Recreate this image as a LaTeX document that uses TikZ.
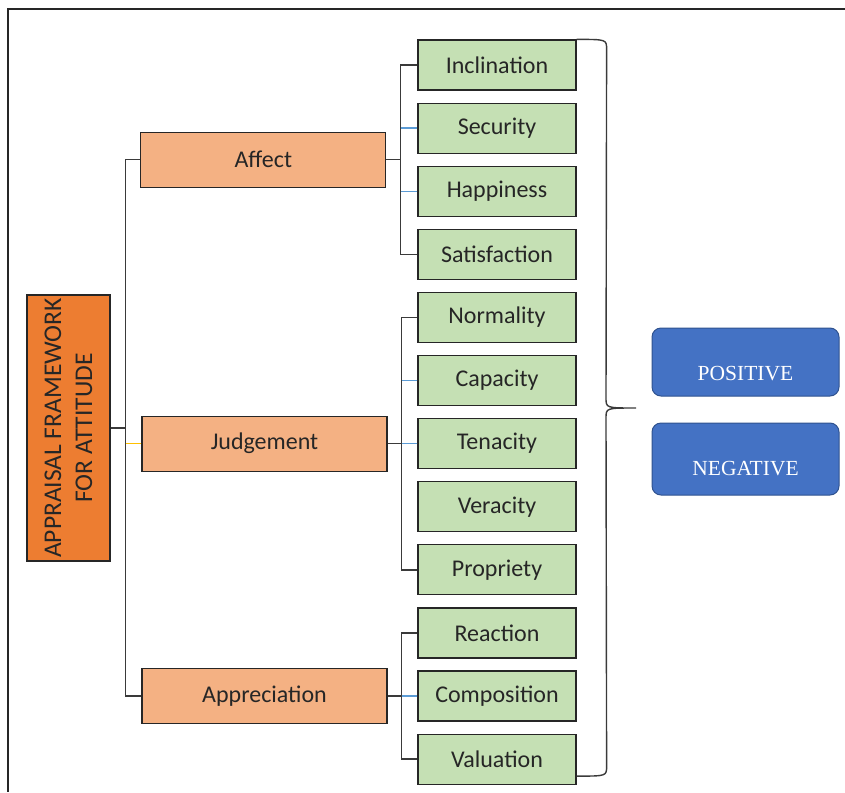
\documentclass[tikz,border=0pt]{standalone}
\usepackage{fontspec}
\setmainfont{Carlito}
\newfontfamily\poleface{Liberation Serif}
\usetikzlibrary{%
	positioning,
	calc
}
\definecolor{rootorange}{HTML}{ED7D31}
\definecolor{branchorange}{HTML}{F4B183}
\definecolor{leafgreen}{HTML}{C5E0B4}
\definecolor{poleblue}{HTML}{4472C4}
\definecolor{poleedge}{HTML}{2F528F}
\definecolor{linkgrey}{HTML}{3A3A3A}
\definecolor{linkblue}{HTML}{5B9BD5}
\definecolor{linkyellow}{HTML}{FFC000}

\begin{document}
\begin{tikzpicture}[x=1pt,y=-1pt,
		Root/.style={draw=black!85,line width=1.2pt,fill=rootorange,shape=rectangle,rotate=90,minimum width=266pt,minimum height=83pt,inner sep=0pt,align=center,font=\fontsize{25.5}{31}\selectfont,text=black!85},
		Branch/.style={draw=black!85,line width=1.2pt,fill=branchorange,shape=rectangle,minimum width=245pt,minimum height=55pt,inner sep=0pt,font=\fontsize{24}{28}\selectfont,text=black!85},
		Leaf/.style={draw=black!85,line width=1.2pt,fill=leafgreen,shape=rectangle,minimum width=158pt,minimum height=50pt,inner sep=0pt,font=\fontsize{24}{28}\selectfont,text=black!85},
		Pole/.style={draw=poleedge,line width=1pt,fill=poleblue,rounded corners=9pt,minimum width=187pt,inner sep=0pt,font=\poleface\fontsize{21.5}{24}\selectfont,text=white,text depth=0pt},
		Link/.style={draw=linkgrey,line width=1.4pt},
		LinkBlue/.style={draw=linkblue,line width=1.3pt},
		LinkYellow/.style={draw=linkyellow,line width=1.5pt}
	]
	\useasboundingbox (0,0) rectangle (845,792);
	\draw[line width=1.6pt,black!85] (845,9) -- (8,9) -- (8,792);

	% leaves
	\node (Inclination) [Leaf] at (497,65) {Inclination};
	\node (Security) [Leaf, below=11.9pt of Inclination] {Security};
	\node (Happiness) [Leaf, below=11.9pt of Security] {Happiness};
	\node (Satisfaction) [Leaf, below=11.9pt of Happiness] {Satisfaction};
	\node (Normality) [Leaf, below=11.9pt of Satisfaction] {Normality};
	\node (Capacity) [Leaf, below=11.9pt of Normality] {Capacity};
	\node (Tenacity) [Leaf, below=11.9pt of Capacity] {Tenacity};
	\node (Veracity) [Leaf, below=11.9pt of Tenacity] {Veracity};
	\node (Propriety) [Leaf, below=11.9pt of Veracity] {Propriety};
	\node (Reaction) [Leaf, below=11.9pt of Propriety] {Reaction};
	\node (Composition) [Leaf, below=11.9pt of Reaction] {Composition};
	\node (Valuation) [Leaf, below=11.9pt of Composition] {Valuation};

	% branches
	\node (Affect) [Branch, anchor=east] at ($(Security.west)!0.5!(Happiness.west)+(-31,0)$) {Affect};
	\node (Judgement) [Branch, left=29.8pt of Tenacity] {Judgement};
	\node (Appreciation) [Branch, left=29.8pt of Composition] {Appreciation};

	\node (Root) [Root] at (68.5,428) {APPRAISAL FRAMEWORK\\FOR ATTITUDE};

	\coordinate (Trunk) at ($(Root.south)+(15,0)$);
	\coordinate (AffBus) at ($(Affect.east)+(14,0)$);
	\coordinate (JudBus) at ($(Judgement.east)+(14,0)$);
	\coordinate (AppBus) at ($(Appreciation.east)+(14,0)$);

	\draw[Link] (Root.south) -- (Trunk);
	\draw[Link] (Affect.west) -| (Trunk) |- (Appreciation.west);
	\draw[LinkYellow] (Trunk |- Judgement.west) -- (Judgement.west);

	\draw[LinkBlue] (Security.west) -- (Security.west -| AffBus);
	\draw[LinkBlue] (Happiness.west) -- (Happiness.west -| AffBus);
	\draw[Link] (Affect.east) -- (AffBus) |- (Inclination.west);
	\draw[Link] (AffBus) |- (Satisfaction.west);

	\draw[LinkBlue] (Capacity.west) -- (Capacity.west -| JudBus);
	\draw[LinkBlue] (Tenacity.west) -- (JudBus);
	\draw[Link] (Judgement.east) -- (JudBus) |- (Normality.west);
	\draw[Link] (JudBus) |- (Propriety.west);

	\draw[LinkBlue] (Composition.west) -- (AppBus);
	\draw[Link] (Appreciation.east) -- (AppBus) |- (Reaction.west);
	\draw[Link] (AppBus) |- (Valuation.west);

	% brace
	\coordinate (Tip) at (636,408);
	\draw[Link] (Inclination.north east) .. controls ($(Inclination.north east)+(30,0)$) .. ($(Inclination.north east)+(30,10)$)
		-- ($(Tip)+(-30,-10)$) .. controls ($(Tip)+(-30,0)$) .. (Tip)
		.. controls ($(Tip)+(-30,0)$) .. ($(Tip)+(-30,10)$)
		-- ($(Valuation.east)+(30,7)$) .. controls ($(Valuation.east)+(30,17)$) .. ($(Valuation.east)+(0,17)$);

	% poles
	\node (Positive) [Pole, minimum height=68pt, text height=37pt] at (745.5,362) {POSITIVE};
	\node (Negative) [Pole, minimum height=72pt, text height=32pt, below=26pt of Positive] {NEGATIVE};
\end{tikzpicture}
\end{document}
